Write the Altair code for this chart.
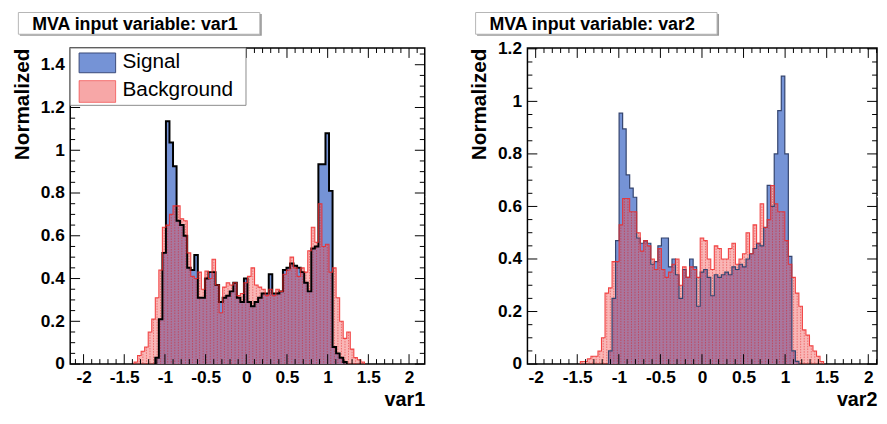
import altair as alt
import pandas as pd

FONT = "Liberation Sans"
SIG_FILL = "#7593d6"
BKG_FILL = "#f05050"
BKG_OPACITY = 0.42
BKG_LINE = "#f02a2a"
BKG_HATCH = "#e00000"

# ---------------- data: var1 (100 bins over the histogram range) ----------------
V1_HIST_RANGE = [-2.164, 2.193]
V1_NBINS = 100
V1_SIG_FIRST_BIN = 24
V1_SIG = [0.03, 0.21, 0.52, 1.136, 1.036, 0.925, 0.67, 0.65, 0.60, 0.45,
          0.44, 0.51, 0.31, 0.31, 0.40, 0.43, 0.43, 0.37, 0.29, 0.31,
          0.32, 0.34, 0.38, 0.31, 0.29, 0.40, 0.29, 0.27, 0.29, 0.31,
          0.33, 0.33, 0.42, 0.33, 0.33, 0.34, 0.44, 0.45, 0.47, 0.46,
          0.45, 0.43, 0.38, 0.34, 0.54, 0.55, 0.935, 0.935, 1.08, 0.81,
          0.08, 0.05, 0.03, 0.01]
V1_BKG_FIRST_BIN = 18
V1_BKG = [0.01, 0.04, 0.06, 0.08, 0.15, 0.21, 0.31, 0.44, 0.64, 0.65,
          0.70, 0.74, 0.74, 0.68, 0.67, 0.52, 0.41, 0.40, 0.43, 0.35,
          0.435, 0.40, 0.49, 0.37, 0.24, 0.36, 0.38, 0.37, 0.38, 0.32,
          0.33, 0.38, 0.41, 0.45, 0.37, 0.36, 0.35, 0.32, 0.35, 0.32,
          0.35, 0.34, 0.42, 0.44, 0.50, 0.45, 0.41, 0.45, 0.43, 0.53,
          0.64, 0.57, 0.75, 0.55, 0.56, 0.43, 0.45, 0.31, 0.20, 0.12,
          0.15, 0.07, 0.03, 0.02, 0.01]

# ---------------- data: var2 ----------------
V2_HIST_RANGE = [-2.099, 2.141]
V2_NBINS = 100
V2_SIG_FIRST_BIN = 23
V2_SIG = [0.05, 0.25, 0.47, 0.955, 0.895, 0.72, 0.67, 0.635, 0.48, 0.46,
          0.47, 0.46, 0.38, 0.39, 0.45, 0.48, 0.48, 0.37, 0.40, 0.34,
          0.25, 0.36, 0.33, 0.40, 0.37, 0.22, 0.35, 0.36, 0.33, 0.26,
          0.34, 0.33, 0.34, 0.35, 0.34, 0.37, 0.36, 0.38, 0.37, 0.40,
          0.42, 0.44, 0.46, 0.45, 0.52, 0.68, 0.60, 0.80, 0.965, 1.096,
          0.80, 0.41, 0.05, 0.01]
V2_BKG_FIRST_BIN = 15
V2_BKG = [0.01, 0.01, 0.02, 0.03, 0.03, 0.05, 0.10, 0.27, 0.29, 0.39,
          0.39, 0.53, 0.63, 0.63, 0.58, 0.58, 0.50, 0.43, 0.47, 0.45,
          0.40, 0.36, 0.44, 0.36, 0.33, 0.35, 0.38, 0.40, 0.30, 0.37,
          0.33, 0.37, 0.36, 0.33, 0.48, 0.47, 0.40, 0.36, 0.45, 0.44,
          0.40, 0.40, 0.44, 0.46, 0.38, 0.40, 0.42, 0.50, 0.42, 0.53,
          0.46, 0.61, 0.52, 0.55, 0.68, 0.61, 0.58, 0.58, 0.47, 0.38,
          0.33, 0.27, 0.22, 0.13, 0.11, 0.07, 0.05, 0.03, 0.01]

# ---------------- axis labels ----------------
X_LABELS = [-2, -1.5, -1, -0.5, 0, 0.5, 1, 1.5, 2]
V1_Y_LABELS = [0, 0.2, 0.4, 0.6, 0.8, 1, 1.2, 1.4]
V2_Y_LABELS = [0, 0.2, 0.4, 0.6, 0.8, 1, 1.2]
LEGEND_LABELS = ["Signal", "Background"]

PLOT_H = 320


def step_points(hist_range, nbins, first, vals):
    w = (hist_range[1] - hist_range[0]) / nbins
    lo = [hist_range[0] + (first + i) * w for i in range(len(vals))]
    hi_last = hist_range[0] + (first + len(vals)) * w
    area = pd.DataFrame({"x": lo + [hi_last], "v": list(vals) + [0.0]})
    line = pd.DataFrame({"x": [lo[0]] + lo + [hi_last],
                         "v": [0.0] + list(vals) + [0.0]})
    line["i"] = range(len(line))
    hatch = pd.DataFrame({"x": [l + w / 2 for l in lo], "v": list(vals)})
    return area, line, hatch


def minor_ticks(step, lo, hi, majors):
    out = []
    k = int(round(lo / step)) - 1
    while k * step <= hi + 1e-9:
        v = round(k * step, 3)
        if lo <= v <= hi and all(abs(v - m) > 1e-6 for m in majors):
            out.append(v)
        k += 1
    return out


def make_panel(var, hist_range, nbins, xdomain, ymax, ylabels,
               sig_first, sig_vals, bkg_first, bkg_vals,
               sig_line_color, sig_line_width, width, height, legend,
               cell_left, cell_right):
    xs = alt.Scale(domain=xdomain, nice=False, zero=False)
    ys = alt.Scale(domain=[0, ymax], nice=False, zero=False)

    x_axis = alt.Axis(values=X_LABELS, labelExpr="'' + datum.value",
                      ticks=False, tickSize=0, domain=False, grid=False,
                      labelFont=FONT, labelFontSize=17.5, labelFontWeight="bold",
                      labelColor="black", labelPadding=5, labelOverlap=False,
                      labelFlush=False, labelBound=False,
                      title=var, titleFont=FONT, titleFontSize=20,
                      titleFontWeight="bold", titleColor="black",
                      titleAnchor="end", titleAlign="right",
                      titleBaseline="alphabetic", titleX=width, titleY=41.5)
    y_axis = alt.Axis(values=ylabels, labelExpr="'' + datum.value",
                      ticks=False, tickSize=0, domain=False, grid=False,
                      labelFont=FONT, labelFontSize=17.5, labelFontWeight="bold",
                      labelColor="black", labelPadding=6, labelOverlap=False,
                      labelFlush=False, labelBound=False,
                      title="Normalized", titleFont=FONT, titleFontSize=21,
                      titleFontWeight="bold", titleColor="black",
                      titleAngle=270, titleAnchor="end", titleAlign="right",
                      titleBaseline="alphabetic", titleX=-42, titleY=0)

    def X(field):
        return alt.X(field, scale=xs, axis=x_axis, title=var)

    def Y(field, **kw):
        return alt.Y(field, scale=ys, axis=y_axis, title="Normalized", **kw)

    sig_area_df, sig_line_df, _ = step_points(hist_range, nbins, sig_first, sig_vals)
    bkg_area_df, bkg_line_df, bkg_hatch_df = step_points(hist_range, nbins, bkg_first, bkg_vals)

    sig_area = alt.Chart(sig_area_df).mark_area(
        interpolate="step-after", color=SIG_FILL, opacity=1).encode(
        x=X("x:Q"), y=Y("v:Q", stack=None), y2=alt.datum(0))
    bkg_area = alt.Chart(bkg_area_df).mark_area(
        interpolate="step-after", color=BKG_FILL, opacity=BKG_OPACITY).encode(
        x=X("x:Q"), y=Y("v:Q", stack=None), y2=alt.datum(0))
    bkg_hatch = alt.Chart(bkg_hatch_df).mark_rule(
        color=BKG_HATCH, strokeWidth=0.9, opacity=0.45,
        strokeDash=[1.5, 1.2]).encode(
        x=X("x:Q"), y=Y("v:Q"), y2=alt.datum(0))
    sig_line = alt.Chart(sig_line_df).mark_line(
        interpolate="step-after", color=sig_line_color,
        strokeWidth=sig_line_width).encode(
        x=X("x:Q"), y=Y("v:Q"), order=alt.Order("i:Q"))
    bkg_line = alt.Chart(bkg_line_df).mark_line(
        interpolate="step-after", color=BKG_LINE, strokeWidth=1.1,
        opacity=0.85).encode(
        x=X("x:Q"), y=Y("v:Q"), order=alt.Order("i:Q"))

    layers = [sig_area, bkg_area, bkg_hatch, sig_line, bkg_line]

    # inward ROOT-style ticks on all four sides
    x_major = [v for v in X_LABELS if xdomain[0] <= v <= xdomain[1]]
    x_minor = minor_ticks(0.1, xdomain[0], xdomain[1], x_major)
    y_major = [v for v in ylabels if v <= ymax]
    y_minor = minor_ticks(0.05, 0, ymax, y_major)
    for vals, ln in ((x_major, 10), (x_minor, 5)):
        df = pd.DataFrame({"x": vals})
        layers.append(alt.Chart(df).mark_rule(color="black", strokeWidth=1).encode(
            x=X("x:Q"), y=alt.value(height), y2=alt.value(height - ln)))
        layers.append(alt.Chart(df).mark_rule(color="black", strokeWidth=1).encode(
            x=X("x:Q"), y=alt.value(0), y2=alt.value(ln)))
    for vals, ln in ((y_major, 10), (y_minor, 5)):
        df = pd.DataFrame({"v": vals})
        layers.append(alt.Chart(df).mark_rule(color="black", strokeWidth=1).encode(
            y=Y("v:Q"), x=alt.value(0), x2=alt.value(ln)))
        layers.append(alt.Chart(df).mark_rule(color="black", strokeWidth=1).encode(
            y=Y("v:Q"), x=alt.value(width), x2=alt.value(width - ln)))

    one = pd.DataFrame({"t": [""]})

    if legend:
        layers.append(alt.Chart(one).mark_rect(
            fill="white", stroke="#8a8a8a", strokeWidth=1).encode(
            x=alt.value(0), x2=alt.value(178), y=alt.value(0), y2=alt.value(58)))
        layers.append(alt.Chart(one).mark_rect(
            fill=SIG_FILL, stroke="#3a4a78", strokeWidth=1).encode(
            x=alt.value(9), x2=alt.value(46), y=alt.value(5), y2=alt.value(25)))
        layers.append(alt.Chart(one).mark_rect(
            fill=BKG_FILL, fillOpacity=0.5, stroke=BKG_LINE,
            strokeOpacity=0.6, strokeWidth=1).encode(
            x=alt.value(9), x2=alt.value(46), y=alt.value(33), y2=alt.value(55)))
        leg_df = pd.DataFrame({"t": LEGEND_LABELS, "yy": [20.5, 49]})
        layers.append(alt.Chart(leg_df).mark_text(
            font=FONT, fontSize=21, align="left", baseline="alphabetic",
            color="black").encode(
            text="t:N", x=alt.value(53), y=alt.Y("yy:Q", scale=None, axis=None)))

    # title pave (ROOT TPaveText with shadow)
    layers.append(alt.Chart(one).mark_rect(fill="#9a9a9a").encode(
        x=alt.value(-51), x2=alt.value(194), y=alt.value(-34.5), y2=alt.value(-12.5)))
    layers.append(alt.Chart(one).mark_rect(
        fill="white", stroke="#b5b5b5", strokeWidth=1).encode(
        x=alt.value(-52.5), x2=alt.value(192), y=alt.value(-36), y2=alt.value(-14)))
    title_df = pd.DataFrame({"t": ["MVA input variable: " + var]})
    layers.append(alt.Chart(title_df).mark_text(
        font=FONT, fontSize=18, fontWeight="bold", align="left",
        baseline="alphabetic", color="black").encode(
        text="t:N", x=alt.value(-38.5), y=alt.value(-18.7)))

    # white layout spacers fixing the horizontal extent of the cell
    for x0 in (cell_left, cell_right - 1):
        layers.append(alt.Chart(one).mark_rect(fill="white").encode(
            x=alt.value(x0), x2=alt.value(x0 + 1),
            y=alt.value(150), y2=alt.value(151)))

    return alt.layer(*layers).properties(width=width, height=height)


p1 = make_panel("var1", V1_HIST_RANGE, V1_NBINS, [-2.164, 2.193], 1.478,
                V1_Y_LABELS, V1_SIG_FIRST_BIN, V1_SIG, V1_BKG_FIRST_BIN, V1_BKG,
                "black", 2.0, 359, PLOT_H, True, -62, 361)
p2 = make_panel("var2", V2_HIST_RANGE, V2_NBINS, [-2.099, -2.099 + 354 / 84.2], 1.203,
                V2_Y_LABELS, V2_SIG_FIRST_BIN, V2_SIG, V2_BKG_FIRST_BIN, V2_BKG,
                "#34446e", 1.2, 354, PLOT_H, False, -68, 355)

chart = alt.hconcat(p1, p2, spacing=32).properties(
    padding={"left": 0, "top": 0, "right": 0, "bottom": 0},
    background="white",
).configure_view(stroke="black", strokeWidth=1.5)

chart.save("out.html", embed_options={"renderer": "svg", "actions": False})
